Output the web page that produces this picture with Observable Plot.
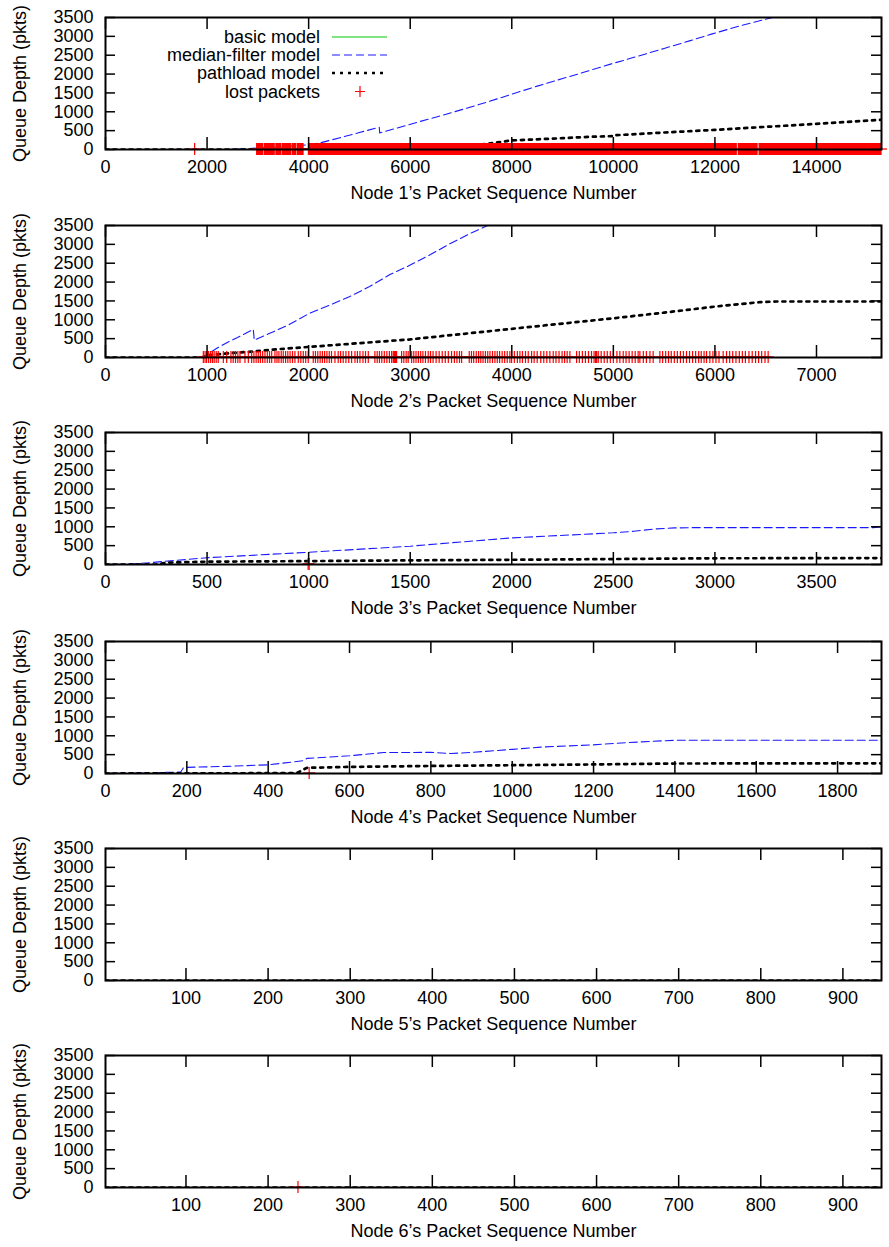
<!DOCTYPE html>
<html>
<head>
<meta charset="utf-8">
<script src="https://cdn.jsdelivr.net/npm/d3@7"></script>
<script src="https://cdn.jsdelivr.net/npm/@observablehq/plot@0.6"></script>
<style>
  html, body { margin: 0; padding: 0; background: #fff; }
  #wrap { position: relative; width: 889px; height: 1247px; background: #fff; }
  #wrap svg { position: absolute; left: 0; }
</style>
</head>
<body>
<div id="wrap"></div>
<script>
// ---------- shared ----------
const yTicks = [0, 500, 1000, 1500, 2000, 2500, 3000, 3500];
const yTitle = "Queue Depth (pkts)";
const seriesNames = ["basic model", "median-filter model", "pathload model", "lost packets"];

// ---------- Node 1 ----------
const n1Domain = [0, 15280];
const n1Ticks = [0, 2000, 4000, 6000, 8000, 10000, 12000, 14000];
const n1Basic = [[0, 0], [15280, 0]];
const n1Median = [[0, 0], [2400, 0], [2800, 20], [3000, 40], [3500, 75], [3800, 100], [4000, 130], [4200, 167],
  [4600, 305], [5000, 450], [5390, 590], [5400, 440], [5800, 590], [6200, 745], [6569, 883], [7000, 1050],
  [7500, 1250], [7961, 1450], [8500, 1680], [9000, 1880], [9500, 2080], [9961, 2270], [10500, 2480],
  [11000, 2680], [11500, 2880], [11947, 3066], [12500, 3280], [13137, 3500], [13500, 3640], [14000, 3830]];
const n1Pathload = [[0, 0], [6500, 0], [7000, 60], [7500, 150], [8000, 240], [8500, 270], [9000, 300],
  [9500, 335], [9990, 355], [10000, 375], [11000, 450], [12000, 520], [13000, 600], [14000, 680], [15280, 790]];
// loss bursts [first, last] sequence number
const n1Lost = [[1765, 1765], [2986, 3103], [3136, 3332], [3365, 3463], [3495, 3659], [3691, 3757],
  [3789, 3900], [4005, 12430], [12470, 12840], [12880, 15280]];

// ---------- Node 2 ----------
const n2Domain = [0, 7640];
const n2Ticks = [0, 1000, 2000, 3000, 4000, 5000, 6000, 7000];
const n2Basic = [[0, 0], [7640, 0]];
const n2Median = [[0, 0], [950, 0], [1000, 80], [1100, 250], [1200, 400], [1300, 530], [1400, 670],
  [1455, 745], [1465, 460], [1600, 620], [1800, 860], [2000, 1160], [2200, 1380], [2400, 1610],
  [2600, 1880], [2800, 2200], [2850, 2260], [3000, 2450], [3200, 2730], [3400, 3030], [3600, 3300],
  [3780, 3520], [3900, 3700]];
const n2Pathload = [[0, 0], [950, 0], [1000, 60], [1200, 110], [1460, 160], [1700, 220], [2000, 280],
  [2500, 380], [3000, 480], [3500, 620], [4000, 760], [4500, 900], [5000, 1040], [5500, 1190],
  [6000, 1350], [6450, 1470], [6600, 1485], [7640, 1485]];
const n2Lost = [968, 985, 1000, 1020, 1040, 1058, 1075, 1095, 1115, 1165, 1198,
  1240, 1262, 1285, 1308, 1329, 1378, 1411, 1444, 1466, 1488, 1509,
  1530, 1552, 1575, 1598, 1620, 1641, 1673, 1693, 1712, 1735, 1755, 1778, 1800, 1822, 1846, 1870,
  1903, 1928, 1952, 1976, 2001, 2050, 2072, 2095, 2118, 2140, 2162, 2185, 2208, 2230, 2264,
  2296, 2320, 2345, 2372, 2400, 2428, 2461, 2485, 2510, 2540, 2565, 2592,
  2657, 2680, 2702, 2725, 2750, 2775, 2800, 2822, 2838, 2845, 2852, 2860, 2866, 2871,
  2920, 2942, 2965, 2985, 3019, 3040, 3062, 3085, 3108, 3130, 3155, 3182,
  3205, 3230, 3260, 3290, 3320, 3350, 3380, 3412, 3440, 3465, 3490, 3511,
  3586, 3608, 3630, 3655, 3678, 3700, 3722, 3745, 3768, 3790, 3815, 3839, 3862, 3885, 3910, 3935, 3960, 3986,
  4003, 4030, 4060, 4085, 4110, 4140, 4167, 4200, 4225, 4255, 4290, 4320, 4350, 4380,
  4413, 4440, 4470, 4500, 4525, 4550, 4577, 4643, 4670, 4700, 4730, 4760, 4790, 4815, 4830, 4840,
  4856, 4885, 4915, 4945, 4975, 5005, 5040, 5069, 5102, 5130, 5160, 5190, 5220, 5249,
  5266, 5300, 5330, 5365, 5397,
  5463, 5490, 5520, 5548, 5575, 5605, 5635, 5665, 5695, 5725, 5755, 5785, 5815, 5845, 5870, 5898, 5922,
  5955, 5985, 6015, 6045, 6086,
  6119, 6150, 6180, 6212, 6245, 6275, 6305, 6340, 6372, 6405, 6435, 6465, 6498, 6529];

// ---------- Node 3 ----------
const n3Domain = [0, 3820];
const n3Ticks = [0, 500, 1000, 1500, 2000, 2500, 3000, 3500];
const n3Basic = [[0, 0], [3820, 0]];
const n3Median = [[0, 0], [100, 5], [200, 40], [500, 180], [1000, 325], [1500, 485], [1700, 575],
  [2000, 705], [2500, 840], [2600, 880], [2700, 940], [2800, 970], [2900, 978], [3780, 978], [3820, 1000]];
const n3Pathload = [[0, 0], [250, 0], [300, 50], [500, 75], [1000, 90], [1500, 110], [2000, 125],
  [2500, 145], [3000, 165], [3820, 170]];
const n3Lost = [1000, 1005];

// ---------- Node 4 ----------
const n4Domain = [0, 1908];
const n4Ticks = [0, 200, 400, 600, 800, 1000, 1200, 1400, 1600, 1800];
const n4Basic = [[0, 0], [1908, 0]];
const n4Median = [[0, 0], [100, 15], [185, 40], [192, 160], [300, 190], [400, 230], [488, 340], [495, 400],
  [600, 470], [684, 555], [800, 560], [850, 530], [900, 560], [1000, 640], [1070, 700], [1200, 760],
  [1283, 820], [1397, 880], [1908, 880]];
const n4Pathload = [[0, 0], [470, 10], [495, 150], [600, 175], [800, 200], [1000, 220], [1200, 240],
  [1400, 265], [1908, 270]];
const n4Lost = [502];

// ---------- Node 5 ----------
const n5Domain = [2, 947];
const n5Ticks = [100, 200, 300, 400, 500, 600, 700, 800, 900];
const n5Basic = [[2, 0], [947, 0]];
const n5Median = [[2, 0], [947, 0]];
const n5Pathload = [[2, 0], [947, 0]];
const n5Lost = [];

// ---------- Node 6 ----------
const n6Domain = [2, 947];
const n6Ticks = [100, 200, 300, 400, 500, 600, 700, 800, 900];
const n6Basic = [[2, 0], [947, 0]];
const n6Median = [[2, 0], [947, 0]];
const n6Pathload = [[2, 0], [947, 0]];
const n6Lost = [237];

// ---------- drawing ----------
const FONT = "'Liberation Sans', Arial, Helvetica, sans-serif";
const W = 889, H = 207, ML = 105, MR = 8, MT = 17, MB = 58;
const PH = H - MT - MB, PW = W - ML - MR;
const C_GREEN = "#00c800", C_BLUE = "#1a1aff", C_RED = "#ff0000";
const BLUE_DASH = "8,4", BLACK_DOT = "3,5";

function toRuns(lost) {
  return lost.map(d => Array.isArray(d) ? d : [d, d]);
}

function panel(cfg) {
  const runs = toRuns(cfg.lost);
  return Plot.plot({
    width: W, height: H,
    marginLeft: ML, marginRight: MR, marginTop: MT, marginBottom: MB,
    style: { fontFamily: FONT, fontSize: "18px", background: "#fff", color: "#000", overflow: "visible" },
    x: { domain: cfg.domain },
    y: { domain: [0, 3500] },
    marks: [
      Plot.line(cfg.basic, { x: d => d[0], y: d => d[1], stroke: C_GREEN, strokeWidth: 1, clip: true }),
      Plot.line(cfg.median, { x: d => d[0], y: d => d[1], stroke: C_BLUE, strokeWidth: 1.1, strokeDasharray: BLUE_DASH, clip: true }),
      Plot.line(cfg.pathload, { x: d => d[0], y: d => d[1], stroke: "#000", strokeWidth: 2.7, strokeDasharray: BLACK_DOT, clip: true }),
      // lost packets: "+" marks (vertical arm, horizontal arm)
      Plot.rect(runs, { x1: d => d[0], x2: d => d[1], y1: 0, y2: 0,
        insetTop: -6, insetBottom: -6, insetLeft: -0.6, insetRight: -0.6, fill: C_RED }),
      Plot.rect(runs, { x1: d => d[0], x2: d => d[1], y1: 0, y2: 0,
        insetTop: -0.6, insetBottom: -0.6, insetLeft: -6, insetRight: -6, fill: C_RED }),
      // inward ticks on all four sides
      Plot.ruleX(cfg.ticks, { x: d => d, insetBottom: PH - 12, stroke: "#000", strokeWidth: 1.5 }),
      Plot.ruleX(cfg.ticks, { x: d => d, insetTop: PH - 12, stroke: "#000", strokeWidth: 1.5 }),
      Plot.ruleY(yTicks, { y: d => d, insetRight: PW - 10, stroke: "#000", strokeWidth: 1.5 }),
      Plot.ruleY(yTicks, { y: d => d, insetLeft: PW - 10, stroke: "#000", strokeWidth: 1.5 }),
      Plot.frame({ stroke: "#000", strokeWidth: 2 }),
      Plot.axisX(cfg.ticks, { tickSize: 0, tickPadding: 11, fontSize: 18, label: null, tickFormat: d => String(d) }),
      Plot.axisY(yTicks, { tickSize: 0, tickPadding: 12, fontSize: 18, label: null, tickFormat: d => String(d) }),
      Plot.text([cfg.title], { frameAnchor: "bottom", dy: 44, fontSize: 18, fill: "#000", textAnchor: "middle", lineAnchor: "middle" }),
      Plot.text([yTitle], { frameAnchor: "left", dx: -85, rotate: -90, fontSize: 18, fill: "#000", textAnchor: "middle", lineAnchor: "middle" })
    ]
  });
}

const panels = [
  { title: "Node 1\u2019s Packet Sequence Number", domain: n1Domain, ticks: n1Ticks, basic: n1Basic, median: n1Median, pathload: n1Pathload, lost: n1Lost, top: 0 },
  { title: "Node 2\u2019s Packet Sequence Number", domain: n2Domain, ticks: n2Ticks, basic: n2Basic, median: n2Median, pathload: n2Pathload, lost: n2Lost, top: 208 },
  { title: "Node 3\u2019s Packet Sequence Number", domain: n3Domain, ticks: n3Ticks, basic: n3Basic, median: n3Median, pathload: n3Pathload, lost: n3Lost, top: 415 },
  { title: "Node 4\u2019s Packet Sequence Number", domain: n4Domain, ticks: n4Ticks, basic: n4Basic, median: n4Median, pathload: n4Pathload, lost: n4Lost, top: 624 },
  { title: "Node 5\u2019s Packet Sequence Number", domain: n5Domain, ticks: n5Ticks, basic: n5Basic, median: n5Median, pathload: n5Pathload, lost: n5Lost, top: 831 },
  { title: "Node 6\u2019s Packet Sequence Number", domain: n6Domain, ticks: n6Ticks, basic: n6Basic, median: n6Median, pathload: n6Pathload, lost: n6Lost, top: 1038 }
];

const wrap = document.getElementById("wrap");
const svgs = panels.map(cfg => {
  const svg = panel(cfg);
  svg.style.top = cfg.top + "px";
  wrap.appendChild(svg);
  return svg;
});

// legend inside panel 1 (gnuplot "key")
{
  const g = d3.select(svgs[0]).append("g").attr("font-family", FONT).attr("font-size", 18);
  const rows = [37, 55, 73, 91.5];
  const textX = 320, lx1 = 332, lx2 = 387;
  seriesNames.forEach((name, i) => {
    g.append("text").attr("x", textX).attr("y", rows[i]).attr("dy", "0.34em")
      .attr("text-anchor", "end").attr("fill", "#000").text(name);
  });
  g.append("line").attr("x1", lx1).attr("x2", lx2).attr("y1", rows[0]).attr("y2", rows[0])
    .attr("stroke", C_GREEN).attr("stroke-width", 1);
  g.append("line").attr("x1", lx1).attr("x2", lx2).attr("y1", rows[1]).attr("y2", rows[1])
    .attr("stroke", C_BLUE).attr("stroke-width", 1.1).attr("stroke-dasharray", BLUE_DASH);
  g.append("line").attr("x1", lx1).attr("x2", lx2).attr("y1", rows[2]).attr("y2", rows[2])
    .attr("stroke", "#000").attr("stroke-width", 2.7).attr("stroke-dasharray", BLACK_DOT);
  g.append("path").attr("d", `M${360 - 5},${rows[3]}H${360 + 5}M360,${rows[3] - 5.5}V${rows[3] + 5.5}`)
    .attr("stroke", C_RED).attr("stroke-width", 1.2).attr("fill", "none");
}
</script>
</body>
</html>
